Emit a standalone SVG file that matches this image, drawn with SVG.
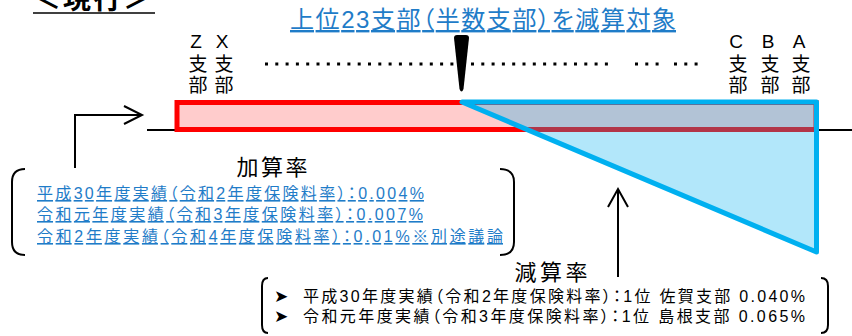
<svg xmlns="http://www.w3.org/2000/svg" width="852" height="336" viewBox="0 0 852 336">
<style>
text{font-family:"Liberation Sans","Noto Sans CJK JP",sans-serif;font-feature-settings:"palt";}
.blk{fill:#000;}
.lbl{font-size:19px;fill:#000;writing-mode:vertical-rl;text-orientation:upright;font-feature-settings:normal;letter-spacing:2px;}
.link{fill:#1F7CC8;text-decoration:underline;}
.ln{fill:none;stroke:#000;stroke-width:2;}
.brk{fill:none;stroke:#000;stroke-width:2;}
.dot{stroke:#000;stroke-width:3;stroke-dasharray:3 7.3;}
.bul{font-family:"DejaVu Sans",sans-serif;font-size:17px;fill:#000;}
</style>
<rect width="852" height="336" fill="#fff"/>

<g id="title-current">
<text x="33" y="9" font-size="28" font-weight="bold" class="blk" textLength="118">＜現行＞</text>
<line x1="33" y1="13" x2="155" y2="13" stroke="#000" stroke-width="1.5"/>
</g>

<g id="title-top23">
<text x="290" y="28" font-size="24" class="link" textLength="386">上位23支部（半数支部）を減算対象</text>
</g>

<g id="branch-labels">
<text class="lbl" x="196" y="31">Z支部</text>
<text class="lbl" x="222" y="31">X支部</text>
<text class="lbl" x="736" y="31">C支部</text>
<text class="lbl" x="768" y="31">B支部</text>
<text class="lbl" x="799" y="31">A支部</text>
</g>

<g id="dots">
<line class="dot" x1="265" y1="64" x2="614" y2="64"/>
<line class="dot" x1="635" y1="64" x2="660" y2="64"/>
<line class="dot" x1="674" y1="64" x2="699" y2="64"/>
</g>

<g id="baseline">
<line x1="147" y1="130" x2="852" y2="130" stroke="#000" stroke-width="2"/>
</g>

<g id="bar-add">
<rect x="177" y="102.5" width="639" height="27" fill="#FFCCCC" stroke="#FF0000" stroke-width="5"/>
</g>

<g id="triangle-reduce">
<polygon points="462,102 816.5,102 816.5,252" fill="#00B0F0" fill-opacity="0.3" stroke="#00B0F0" stroke-width="5" stroke-linejoin="round"/>
</g>

<g id="wedge">
<path d="M454,38 Q454,35 457,35 L466,35 Q469,35 469,38 L463.5,89 Q461.5,94 459.5,89 Z" fill="#000"/>
</g>

<g id="connectors">
<polyline class="ln" points="75,168 75,115 142,115"/>
<polyline class="ln" points="124,106 142,115 124,124"/>
<line class="ln" x1="618" y1="277" x2="618" y2="189"/>
<polyline class="ln" points="608,207 618,189 628,207"/>
</g>

<g id="add-rate">
<path class="brk" d="M25,169 Q12,169 12,182 L12,242 Q12,255 25,255"/>
<path class="brk" d="M500,169 Q514,169 514,182 L514,242 Q514,255 500,255"/>
<text x="272" y="175" font-size="22" class="blk" text-anchor="middle" textLength="71">加算率</text>
<text x="37" y="199" font-size="16" class="link" textLength="387">平成30年度実績（令和2年度保険料率）：0.004%</text>
<text x="37" y="220" font-size="16" class="link" textLength="386">令和元年度実績（令和3年度保険料率）：0.007%</text>
<text x="37" y="242" font-size="16" class="link" textLength="466">令和2年度実績（令和4年度保険料率）：0.01%※別途議論</text>
</g>

<g id="reduce-rate">
<path class="brk" d="M268,278 Q262,278 262,286 L262,325 Q262,333 268,333"/>
<path class="brk" d="M821,278 Q828,278 828,286 L828,325 Q828,333 821,333"/>
<text x="551" y="280" font-size="22" class="blk" text-anchor="middle" textLength="73">減算率</text>
<text x="274" y="302" class="bul">➤</text>
<text x="303" y="302" font-size="16" class="blk" textLength="502">平成30年度実績（令和2年度保険料率）：1位 佐賀支部 0.040%</text>
<text x="274" y="322" class="bul">➤</text>
<text x="303" y="322" font-size="16" class="blk" textLength="502">令和元年度実績（令和3年度保険料率）：1位 島根支部 0.065%</text>
</g>
</svg>
